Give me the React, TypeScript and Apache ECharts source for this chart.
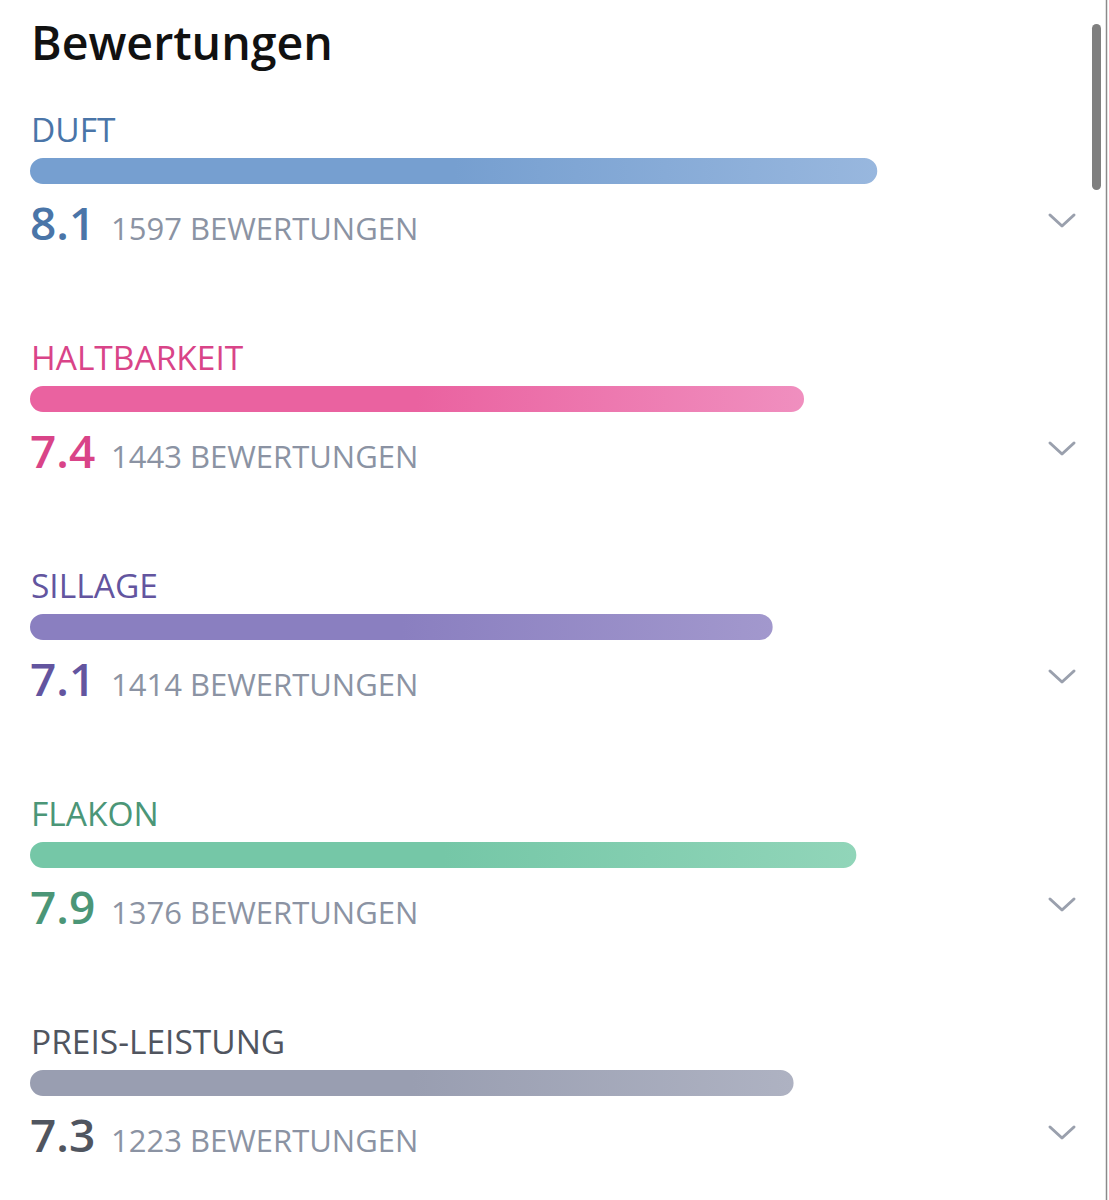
import React, { useEffect, useRef } from "react";
import * as echarts from "echarts";

const categories = ["DUFT", "HALTBARKEIT", "SILLAGE", "FLAKON", "PREIS-LEISTUNG"];
const scores = [8.1, 7.4, 7.1, 7.9, 7.3];
const counts = [1597, 1443, 1414, 1376, 1223];
const countSuffix = "BEWERTUNGEN";
const title = "Bewertungen";

const barStart = ["#769fd0", "#ea62a0", "#8a7fc0", "#75c7a7", "#999eb1"];
const barEnd = ["#98b7de", "#f08fbf", "#a298cd", "#91d5b9", "#aeb2c2"];
const textColors = ["#4a75a8", "#d94488", "#63559f", "#4b9677", "#50555f"];

const FONT = "'Open Sans', 'Noto Sans', sans-serif";

export default function App() {
  const ref = useRef<HTMLDivElement>(null);
  useEffect(() => {
    const chart = echarts.init(ref.current!, null, { renderer: "svg" });
    const bars = scores.map((v, i) => ({
      value: v,
      itemStyle: {
        color: new echarts.graphic.LinearGradient(0, 0, 1, 0, [
          { offset: 0, color: barStart[i] },
          { offset: 0.5, color: barStart[i] },
          { offset: 1, color: barEnd[i] },
        ]),
      },
      label: { color: textColors[i] },
    }));
    const valueLabels = scores.map((v, i) => ({
      value: v,
      label: { color: textColors[i] },
    }));
    chart.setOption({
      animation: false,
      backgroundColor: "#ffffff",
      grid: { left: 30, width: 1046, top: 57, height: 1140 },
      xAxis: { type: "value", min: 0, max: 10, show: false },
      yAxis: {
        type: "category",
        data: categories,
        inverse: true,
        show: false,
      },
      title: {
        text: title,
        left: 26,
        top: 13,
        textStyle: { fontFamily: FONT, fontSize: 46.5, fontWeight: 600, color: "#111111" },
      },
      series: [
        {
          type: "bar",
          data: bars,
          barWidth: 26,
          itemStyle: { borderRadius: 13 },
          label: {
            show: true,
            position: [1, -29],
            align: "left",
            verticalAlign: "middle",
            fontFamily: FONT,
            fontSize: 33.5,
            formatter: (p: any) => categories[p.dataIndex],
          },
          silent: true,
        },
        {
          type: "bar",
          data: valueLabels,
          barWidth: 26,
          barGap: "-100%",
          itemStyle: { color: "rgba(0,0,0,0)" },
          label: {
            show: true,
            position: [0, 64],
            align: "left",
            verticalAlign: "middle",
            fontFamily: FONT,
            fontSize: 46,
            fontWeight: 600,
            formatter: (p: any) => scores[p.dataIndex].toFixed(1),
          },
          silent: true,
        },
        {
          type: "bar",
          data: scores,
          barWidth: 26,
          barGap: "-100%",
          itemStyle: { color: "rgba(0,0,0,0)" },
          label: {
            show: true,
            position: [81, 70],
            align: "left",
            verticalAlign: "middle",
            fontFamily: FONT,
            fontSize: 31,
            color: "#8b93a3",
            formatter: (p: any) => `${counts[p.dataIndex]} ${countSuffix}`,
          },
          silent: true,
        },
      ],
    });
    const chevrons = categories.map((c) => {
      const cy = chart.convertToPixel({ yAxisIndex: 0 }, c) as number;
      const y = cy + 50;
      return {
        type: "polyline",
        shape: { points: [[1050, y - 6], [1062, y + 5], [1074, y - 6]] },
        style: { stroke: "#9aa0ad", lineWidth: 3, fill: null, lineCap: "round", lineJoin: "round" },
        silent: true,
      };
    });
    chart.setOption({
      graphic: [
        ...chevrons,
        {
          type: "rect",
          shape: { x: 1092, y: 24, width: 9, height: 166, r: 4.5 },
          style: { fill: "#7f7f7f" },
          silent: true,
        },
        {
          type: "line",
          shape: { x1: 1106.5, y1: 0, x2: 1106.5, y2: 1200 },
          style: { stroke: "#8a8a8a", lineWidth: 1.5 },
          silent: true,
        },
      ],
    });
    return () => chart.dispose();
  }, []);
  return (
    <div
      ref={ref}
      style={{ position: "absolute", left: 0, top: 0, width: 1109, height: 1200 }}
    />
  );
}
